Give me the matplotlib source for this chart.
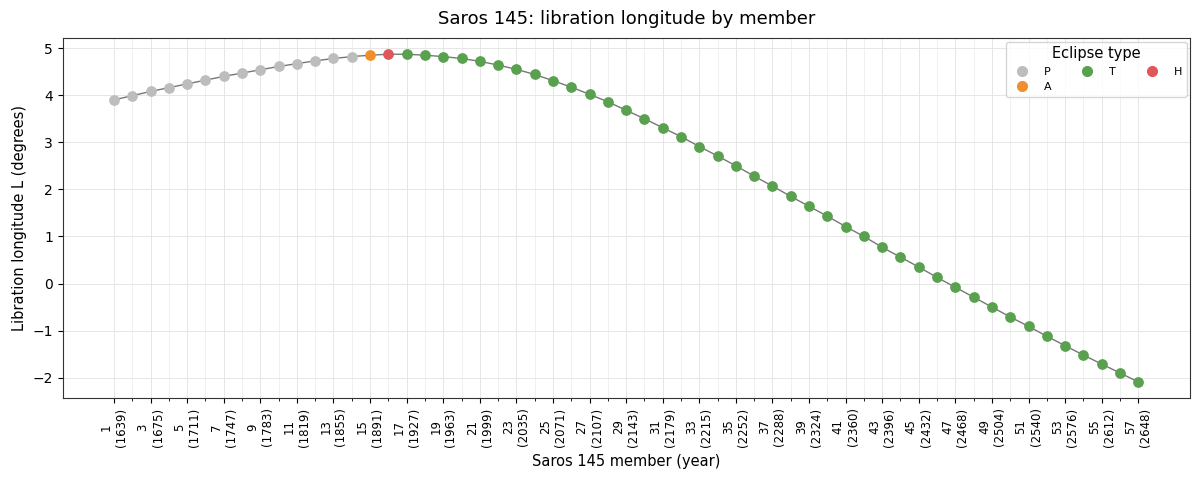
import matplotlib.pyplot as plt
from matplotlib.lines import Line2D

members = list(range(1, 58))
years = [1639, 1657, 1675, 1693, 1711, 1729, 1747, 1765, 1783, 1801,
         1819, 1837, 1855, 1873, 1891, 1909, 1927, 1945, 1963, 1981,
         1999, 2017, 2035, 2053, 2071, 2089, 2107, 2125, 2143, 2161,
         2179, 2197, 2215, 2233, 2252, 2270, 2288, 2306, 2324, 2342,
         2360, 2378, 2396, 2414, 2432, 2450, 2468, 2486, 2504, 2522,
         2540, 2558, 2576, 2594, 2612, 2630, 2648]
libration = [3.90, 3.99, 4.08, 4.16, 4.24, 4.32, 4.40, 4.47, 4.54, 4.61,
             4.67, 4.73, 4.78, 4.82, 4.85, 4.87, 4.87, 4.85, 4.82, 4.78,
             4.72, 4.64, 4.55, 4.44, 4.31, 4.17, 4.02, 3.86, 3.68, 3.50,
             3.31, 3.12, 2.91, 2.71, 2.50, 2.28, 2.07, 1.85, 1.64, 1.43,
             1.21, 1.00, 0.77, 0.56, 0.35, 0.13, -0.08, -0.29, -0.50, -0.71,
             -0.91, -1.12, -1.32, -1.52, -1.71, -1.90, -2.09]
ecl_type = ['P'] * 14 + ['A', 'H'] + ['T'] * 41

type_colors = {'P': '#bdbdbd', 'A': '#f28e2b', 'T': '#59a14f', 'H': '#e15759'}
legend_order = ['P', 'A', 'T', 'H']

fig, ax = plt.subplots(figsize=(12, 4.78), dpi=100)
fig.subplots_adjust(left=0.0523, right=0.9917, top=0.92, bottom=0.168)

ax.plot(members, libration, color='#777777', lw=1, zorder=2)
for t in legend_order:
    xs = [m for m, e in zip(members, ecl_type) if e == t]
    ys = [v for v, e in zip(libration, ecl_type) if e == t]
    ax.scatter(xs, ys, color=type_colors[t], s=45, zorder=3)

# ticks: labels on odd members, minor ticks on even ones
major = [m for m in members if m % 2 == 1]
minor = [m for m in members if m % 2 == 0]
ax.set_xticks(major)
ax.set_xticklabels([f"{m}\n({years[m - 1]})" for m in major], rotation=90, fontsize=8.5)
ax.set_xticks(minor, minor=True)
ax.set_xlim(-1.8, 59.83)
ax.set_ylim(-2.425, 5.21)

ax.grid(True, which='major', color='#e6e6e6', lw=0.7)
ax.grid(True, which='minor', axis='x', color='#eeeeee', lw=0.6)
ax.set_axisbelow(True)
for sp in ax.spines.values():
    sp.set_color('#333333')

ax.set_xlabel('Saros 145 member (year)', fontsize=10.5, labelpad=5)
ax.set_ylabel('Libration longitude L (degrees)', fontsize=10.5)
ax.set_title('Saros 145: libration longitude by member', fontsize=13, pad=10)

handles = [Line2D([], [], marker='o', ls='', color=type_colors[t], markersize=7, label=t)
           for t in legend_order]
ax.legend(handles=handles, title='Eclipse type', ncol=3, loc='upper right',
          fontsize=8, title_fontsize=10.5, columnspacing=2.2, handletextpad=1.0,
          borderaxespad=0.3)

plt.savefig('out.png', dpi=100)
